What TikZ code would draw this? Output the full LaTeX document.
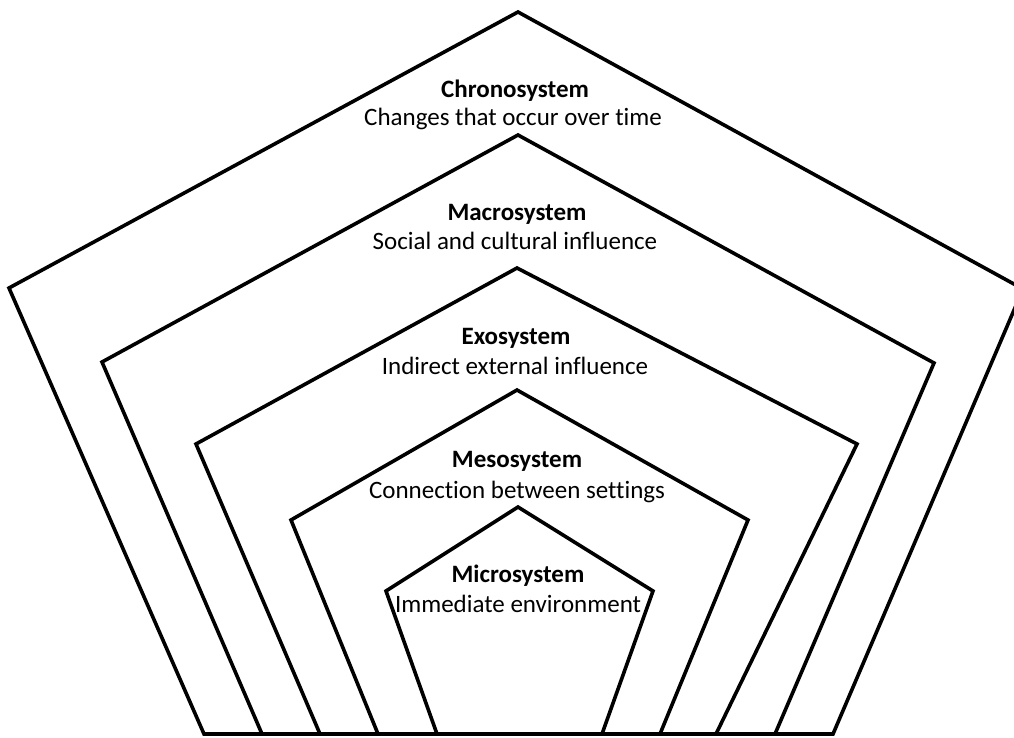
\documentclass[tikz,border=0pt]{standalone}
\usepackage{fontspec}
\setmainfont[Ligatures=NoCommon]{Carlito}
\begin{document}
\begin{tikzpicture}[x=1pt,y=-1pt,
  ring/.style={draw=black,line width=3.6pt,line join=miter},
  ttl/.style={font=\fontsize{25}{30}\selectfont\bfseries,inner sep=0pt,anchor=base},
  sub/.style={font=\fontsize{25}{30}\selectfont,inner sep=0pt,anchor=base}]
\useasboundingbox (0,0) rectangle (1014,737);
\clip (0,0) rectangle (1014,737);
% Chronosystem
\draw[ring] (518,12) -- (1023,289) -- (833,734) -- (204,734) -- (9,288) -- cycle;
% Macrosystem
\draw[ring] (518,135) -- (934,363) -- (775,734) -- (262,734) -- (102,362) -- cycle;
% Exosystem
\draw[ring] (517,268) -- (857,444) -- (716,734) -- (320,734) -- (196,444) -- cycle;
% Mesosystem
\draw[ring] (517,390) -- (748,520) -- (660,734) -- (378,734) -- (291,520) -- cycle;
% Microsystem
\draw[ring] (518,507) -- (653,591) -- (602,734) -- (437,734) -- (386,591) -- cycle;
\draw[line width=4.5pt] (204,734) -- (833,734);
% Labels
\node[ttl] (chT) at (515,97) {Chronosystem};
\node[sub] (chS) at (513,125) {Changes that occur over time};
\node[ttl] (maT) at (517,220) {Macrosystem};
\node[sub] (maS) at (515,249) {Social and cultural influence};
\node[ttl] (exT) at (516,344) {Exosystem};
\node[sub] (exS) at (515,374) {Indirect external influence};
\node[ttl] (meT) at (517,467) {Mesosystem};
\node[sub] (meS) at (517,498) {Connection between settings};
\node[ttl] (miT) at (518,582) {Microsystem};
\node[sub] (miS) at (518,612) {Immediate environment};
\end{tikzpicture}
\end{document}
